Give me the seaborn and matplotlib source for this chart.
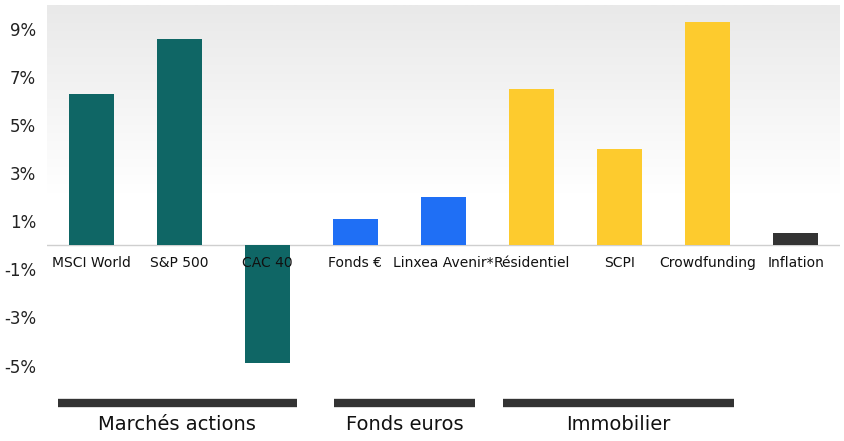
import numpy as np
import pandas as pd
import matplotlib
matplotlib.use("Agg")
import matplotlib.pyplot as plt
import seaborn as sns
from matplotlib.transforms import blended_transform_factory

categories = ["MSCI World", "S&P 500", "CAC 40", "Fonds €", "Linxea Avenir*",
              "Résidentiel", "SCPI", "Crowdfunding", "Inflation"]
values = [6.3, 8.6, -4.9, 1.1, 2.0, 6.5, 4.0, 9.3, 0.5]
colors = ["#0f6665", "#0f6665", "#0f6665", "#1f6ff5", "#1f6ff5",
          "#fdcb2e", "#fdcb2e", "#fdcb2e", "#333333"]
yticks = [9, 7, 5, 3, 1, -1, -3, -5]
groups = ["Marchés actions", "Fonds euros", "Immobilier"]
group_spans = [(-0.38, 2.34), (2.76, 4.36), (4.67, 7.3)]

df = pd.DataFrame({"cat": categories, "val": values})

fig = plt.figure(figsize=(8.44, 4.41), dpi=100)
ax = fig.add_axes([47/844, 1-380/441, (840-47)/844, 375/441])
ax.set_xlim(-0.5, 8.5)
ax.set_ylim(-5.6, 10.0)

grad = np.linspace(0, 1, 256).reshape(-1, 1)
ax.imshow(grad, extent=(-0.5, 8.5, -5.6, 10.0), aspect="auto",
          cmap=matplotlib.colors.LinearSegmentedColormap.from_list("g", ["#ffffff", "#ffffff", "#e9e9e9"]),
          origin="lower", zorder=0)

sns.barplot(data=df, x="cat", y="val", hue="cat", palette=colors, legend=False,
            width=0.51, ax=ax, zorder=2, saturation=1)
ax.set_xlim(-0.5, 8.5)
ax.set_ylim(-5.6, 10.0)
ax.axhline(0, color="#cfcfcf", lw=1, zorder=1)

for i, c in enumerate(categories):
    ax.text(i, -0.45, c, ha="center", va="top", fontsize=10, color="#111111", zorder=3)

ax.set_yticks(yticks)
ax.set_yticklabels([f"{t}%" for t in yticks], fontsize=12, color="#222222")
ax.set_xticks([])
ax.set_xlabel("")
ax.set_ylabel("")
ax.tick_params(axis="y", length=0, pad=8)
for s in ax.spines.values():
    s.set_visible(False)

tr = blended_transform_factory(ax.transData, fig.transFigure)
for g, (a, b) in zip(groups, group_spans):
    fig.add_artist(plt.Line2D([a, b], [1-403/441]*2, transform=tr, color="#333333", lw=6, solid_capstyle="butt"))
    fig.text((a+b)/2, 1-425/441, g, transform=tr, ha="center", va="center", fontsize=14, color="#111111")

fig.savefig("out.png", dpi=100)
